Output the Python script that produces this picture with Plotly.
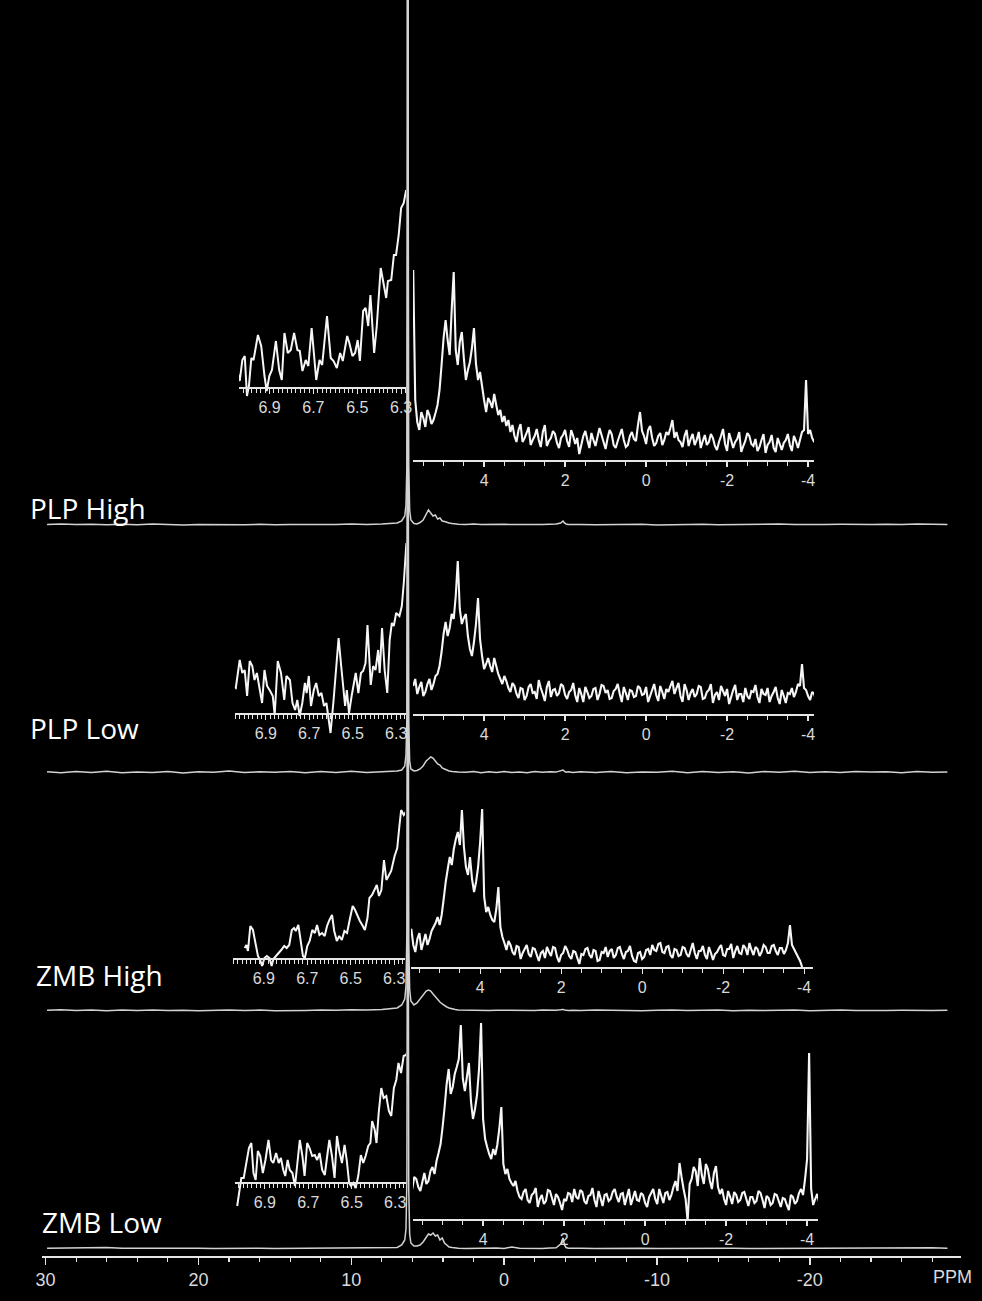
import plotly.graph_objects as go

# ---------------- DATA ----------------
NAMES = ["PLP High", "PLP Low", "ZMB High", "ZMB Low"]

MAIN_PPM = [29.9, 29, 28, 27, 26, 25, 24, 23, 22, 21, 20, 19, 18, 17, 16, 15, 14, 13, 12, 11, 10, 9, 8, 7.5,
            7.0, 6.7, 6.5, 6.42, 6.36, 6.32, 6.3, 6.28, 6.24, 6.18, 6.1, 5.9, 5.7, 5.5, 5.3, 5.1, 4.95, 4.8,
            4.65, 4.5, 4.35, 4.2, 4.05, 3.9, 3.75, 3.6, 3.4, 3.2, 3.0,
            2.5, 2.0, 1.5, 1.0, 0.5, 0, -0.5, -1, -1.5, -2, -2.5, -3, -3.4, -3.7, -3.85, -3.95, -4.05, -4.2, -4.5,
            -5, -6, -7, -8, -9, -10, -11, -12, -13, -14, -15, -16, -17, -18, -19, -20, -21, -22, -23, -24, -25,
            -26, -27, -28, -29]

PLP_HIGH_MAIN = [0.6, 1.0, 0.4, 0.8, 0.2, 0.7, 0.3, 0.9, 0.5, 0.1, 0.6, 0.4, 0.8, 0.3, 0.7, 0.2, 0.5, 0.4, 0.8, 0.5, 0.9, 0.6, 1.1, 1.5,
                 2, 4, 9, 20, 60, 400, 3000, 400, 60, 15, 5, 1.5, 1, 2.5, 5, 11, 15, 12, 9, 10, 6, 7, 4, 3.5, 2.5, 2, 1.5, 1, 0.8,
                 0.6, 0.9, 0.4, 0.7, 0.3, 0.8, 0.4, 0.6, 0.2, 0.5, 0.4, 0.7, 0.9, 2, 4, 2, 1, 0.6, 0.4,
                 0.5, 0.2, 0.6, 0.3, 0.7, 0.1, 0.5, 0.4, 0.8, 0.2, 0.5, 0.3, 0.6, 0.9, 0.4, 0.2, 0.5, 0.7, 0.3, 0.6, 0.8, 0.4, 0.9, 0.5, 0.6]
PLP_LOW_MAIN = [1.2, 0.2, 1.5, 0.5, 1.8, 0.3, 1.1, 0.6, 1.6, 0.1, 1.3, 0.7, 1.9, 0.4, 1.2, 0.8, 1.5, 0.2, 1.4, 0.6, 1.7, 0.5, 1.3, 1.6,
                2, 3, 7, 18, 55, 400, 3000, 400, 50, 12, 4, 2, 2.5, 4, 7, 12, 14, 16, 15, 12, 9, 8, 5, 4, 3, 2, 1.5, 1, 1,
                0.8, 1.5, 0.3, 1.2, 0.6, 1.6, 0.4, 1.1, 0.2, 1.4, 0.7, 1.3, 0.9, 1.8, 3, 1.6, 0.8, 1.2, 0.5,
                1.3, 0.4, 1.6, 0.2, 1.1, 0.7, 1.8, 0.3, 1.4, 0.6, 1.2, 0.1, 1.5, 0.8, 1.7, 0.4, 1.3, 0.5, 1.6, 0.9, 1.2, 0.3, 1.5, 0.7, 1.1]
ZMB_HIGH_MAIN = [0.8, 1.2, 0.5, 1.0, 0.3, 0.9, 0.6, 1.1, 0.4, 0.8, 0.2, 0.7, 1.0, 0.5, 0.9, 0.3, 0.8, 0.6, 1.0, 0.7, 1.2, 0.9, 1.4, 2.0,
                 3, 6, 12, 25, 80, 500, 3000, 500, 70, 22, 10, 6, 8, 12, 17, 20, 21, 20, 17, 14, 11, 9, 7, 5, 4, 3, 2, 1.5, 1,
                 0.8, 0.5, 0.9, 0.4, 0.7, 0.6, 1.0, 0.3, 0.8, 0.5, 0.9, 0.6, 0.8, 1.2, 1.6, 1.0, 0.7, 0.5, 0.8,
                 0.4, 0.9, 0.5, 0.8, 0.3, 0.7, 1.0, 0.4, 0.6, 0.9, 0.2, 0.8, 0.5, 0.7, 1.0, 0.3, 0.6, 0.9, 0.4, 0.8, 0.5, 0.7, 0.3, 0.6, 0.8]
ZMB_LOW_MAIN = [0.8, 1.0, 0.6, 0.9, 1.4, 0.7, 0.8, 0.5, 0.9, 0.6, 0.8, 0.4, 0.7, 0.5, 0.8, 0.6, 0.7, 0.4, 0.8, 0.5, 0.7, 0.6, 0.9, 1.2,
                1.5, 4, 9, 20, 70, 450, 3000, 450, 60, 15, 6, 3, 3, 4, 7, 12, 15, 14, 16, 13, 14, 9, 11, 6, 4, 2, 1.5, 1, 0.8,
                0.6, 0.8, 0.5, 0.7, 0.9, 0.6, 2.0, 0.7, 0.5, 0.8, 0.6, 0.9, 1.2, 5, 11, 4, 1.5, 0.8, 0.6,
                0.7, 0.5, 0.8, 0.6, 0.7, 0.4, 0.6, 0.5, 0.8, 0.6, 0.7, 0.5, 0.6, 0.4, 0.7, 0.5, 0.6, 0.8, 0.6, 0.7, 0.9, 1.2, 1.6, 1.2, 0.8]

# left insets (6.3-7.0 ppm)
PLP_HIGH_LEFT_PPM = [7.048, 7.036, 7.024, 7.013, 7.003, 6.994, 6.983, 6.973, 6.953, 6.938,
                     6.923, 6.913, 6.901, 6.889, 6.871, 6.856, 6.844, 6.832, 6.817, 6.803,
                     6.788, 6.773, 6.762, 6.750, 6.735, 6.723, 6.708, 6.695, 6.687, 6.672,
                     6.660, 6.638, 6.621, 6.608, 6.593, 6.578, 6.566, 6.546, 6.536, 6.522,
                     6.510, 6.498, 6.488, 6.473, 6.462, 6.450, 6.440, 6.423, 6.411, 6.393,
                     6.380, 6.368, 6.360, 6.345, 6.333, 6.323, 6.311, 6.300, 6.288, 6.277]
PLP_HIGH_LEFT = [17, 6, 27, 31, -9, 1, 29, 27, 52, 41, 11, -4, 11, 17, 46, 17, 7, 54, 34, 37,
                 54, 37, 36, 16, 27, 21, 59, 29, 7, 27, 22, 71, 29, 26, 19, 34, 26, 51, 44, 31,
                 34, 47, 26, 76, 79, 61, 92, 34, 61, 119, 101, 89, 106, 107, 132, 132, 152, 179, 184, 197]

PLP_LOW_LEFT_PPM = [7.080, 7.073, 7.065, 7.053, 7.038, 7.020, 7.008, 6.997, 6.986, 6.974,
                    6.962, 6.952, 6.941, 6.929, 6.917, 6.906, 6.894, 6.880, 6.868, 6.859,
                    6.845, 6.830, 6.815, 6.805, 6.789, 6.777, 6.765, 6.755, 6.744, 6.732,
                    6.720, 6.712, 6.702, 6.692, 6.679, 6.668, 6.656, 6.644, 6.632, 6.621,
                    6.611, 6.602, 6.588, 6.577, 6.565, 6.553, 6.542, 6.535, 6.527, 6.517,
                    6.505, 6.494, 6.486, 6.474, 6.462, 6.452, 6.441, 6.432, 6.417, 6.406,
                    6.395, 6.383, 6.376, 6.365, 6.353, 6.341, 6.330, 6.320, 6.311, 6.300,
                    6.285, 6.274, 6.265, 6.253, 6.244]
PLP_LOW_LEFT = [0, -5, 0, 27, 25, 53, 40, 43, 17, 52, 47, 33, 40, 23, 10, 43, 27, 22, 17, -2,
                52, 40, 13, 37, 33, 10, 3, 13, -3, 10, 30, 20, 37, 7, 23, 30, 17, 20, 7, 10,
                -7, -20, 13, 40, 75, 47, 17, 7, 23, 0, 17, 33, 40, 20, 40, 42, 50, 88, 28, 47,
                43, 63, 40, 85, 43, 20, 73, 90, 87, 100, 97, 107, 130, 170, 157]

ZMB_HIGH_LEFT_PPM = [6.988, 6.980, 6.973, 6.962, 6.950, 6.938, 6.927, 6.917, 6.908, 6.897,
                     6.886, 6.874, 6.864, 6.856, 6.844, 6.832, 6.820, 6.806, 6.795, 6.783,
                     6.771, 6.761, 6.753, 6.741, 6.730, 6.720, 6.711, 6.700, 6.689, 6.677,
                     6.665, 6.655, 6.644, 6.632, 6.620, 6.609, 6.598, 6.586, 6.576, 6.564,
                     6.553, 6.541, 6.529, 6.517, 6.503, 6.491, 6.480, 6.470, 6.458, 6.447,
                     6.435, 6.423, 6.414, 6.402, 6.389, 6.380, 6.370, 6.359, 6.347, 6.336,
                     6.326, 6.314, 6.298, 6.286, 6.276, 6.268, 6.256, 6.244, 6.233]
ZMB_HIGH_LEFT = [10, 13, 7, 32, 28, 15, 2, -2, -8, 0, 2, 0, -8, -1, 2, 4, 8, 12, 10, 13,
                 28, 30, 27, 33, 15, 2, 0, 12, 17, 28, 25, 33, 23, 25, 22, 32, 38, 43, 27, 17,
                 22, 18, 27, 25, 40, 52, 48, 42, 37, 33, 28, 40, 60, 63, 70, 73, 62, 68, 98, 78,
                 82, 87, 102, 110, 132, 148, 143, 147, 148]

ZMB_LOW_LEFT_PPM = [7.027, 7.018, 7.008, 6.997, 6.985, 6.973, 6.962, 6.952, 6.942, 6.932,
                    6.921, 6.909, 6.897, 6.883, 6.871, 6.861, 6.848, 6.836, 6.826, 6.815,
                    6.806, 6.795, 6.785, 6.773, 6.761, 6.750, 6.739, 6.727, 6.717, 6.705,
                    6.694, 6.682, 6.670, 6.659, 6.648, 6.636, 6.624, 6.614, 6.603, 6.591,
                    6.579, 6.568, 6.558, 6.545, 6.533, 6.523, 6.512, 6.503, 6.492, 6.482,
                    6.470, 6.458, 6.447, 6.436, 6.424, 6.414, 6.406, 6.394, 6.386, 6.376,
                    6.364, 6.353, 6.341, 6.329, 6.318, 6.306, 6.295, 6.285, 6.273, 6.261,
                    6.250, 6.242]
ZMB_LOW_LEFT = [-24, -8, 4, 4, 19, 34, 39, 9, 2, 31, 26, 9, 22, 42, 22, 19, 29, 19, 24, 12,
                6, 22, 12, 9, -4, 16, 42, 26, 6, 39, 34, 26, 27, 22, 29, 12, 7, 24, 42, 26,
                4, 46, 32, 19, 37, 22, -1, -4, -1, -6, 6, 27, 19, 26, 36, 39, 61, 52, 39, 69,
                94, 84, 86, 71, 66, 94, 102, 119, 109, 126, 127, 131]

# right insets (5.75 to -4.35 ppm, 0.05 ppm sampling)
RIGHT_PPM = [5.75, 5.7, 5.65, 5.6, 5.55, 5.5, 5.45, 5.4, 5.35, 5.3, 5.25, 5.2, 5.15, 5.1, 5.05, 5.0,
             4.95, 4.9, 4.85, 4.8, 4.75, 4.7, 4.65, 4.6, 4.55, 4.5, 4.45, 4.4, 4.35, 4.3, 4.25, 4.2,
             4.15, 4.1, 4.05, 4.0, 3.95, 3.9, 3.85, 3.8, 3.75, 3.7, 3.65, 3.6, 3.55, 3.5, 3.45, 3.4,
             3.35, 3.3, 3.25, 3.2, 3.15, 3.1, 3.05, 3.0, 2.95, 2.9, 2.85, 2.8, 2.75, 2.7, 2.65, 2.6,
             2.55, 2.5, 2.45, 2.4, 2.35, 2.3, 2.25, 2.2, 2.15, 2.1, 2.05, 2.0, 1.95, 1.9, 1.85, 1.8,
             1.75, 1.7, 1.65, 1.6, 1.55, 1.5, 1.45, 1.4, 1.35, 1.3, 1.25, 1.2, 1.15, 1.1, 1.05, 1.0,
             0.95, 0.9, 0.85, 0.8, 0.75, 0.7, 0.65, 0.6, 0.55, 0.5, 0.45, 0.4, 0.35, 0.3, 0.25, 0.2,
             0.15, 0.1, 0.05, 0.0, -0.05, -0.1, -0.15, -0.2, -0.25, -0.3, -0.35, -0.4, -0.45, -0.5,
             -0.55, -0.6, -0.65, -0.7, -0.75, -0.8, -0.85, -0.9, -0.95, -1.0, -1.05, -1.1, -1.15, -1.2,
             -1.25, -1.3, -1.35, -1.4, -1.45, -1.5, -1.55, -1.6, -1.65, -1.7, -1.75, -1.8, -1.85, -1.9,
             -1.95, -2.0, -2.05, -2.1, -2.15, -2.2, -2.25, -2.3, -2.35, -2.4, -2.45, -2.5, -2.55, -2.6,
             -2.65, -2.7, -2.75, -2.8, -2.85, -2.9, -2.95, -3.0, -3.05, -3.1, -3.15, -3.2, -3.25, -3.3,
             -3.35, -3.4, -3.45, -3.5, -3.55, -3.6, -3.65, -3.7, -3.75, -3.8, -3.85, -3.9, -3.95, -4.0,
             -4.05, -4.1, -4.15, -4.2, -4.25, -4.3, -4.35]
PLP_HIGH_RIGHT = [190, 60, 38, 30, 48, 42, 33, 50, 45, 36, 40, 47, 55, 70, 95, 122,
                  140, 120, 105, 150, 188, 110, 95, 118, 128, 102, 80, 90, 98, 112, 132, 96,
                  80, 88, 74, 60, 48, 62, 58, 52, 66, 55, 45, 50, 38, 44, 34, 40,
                  28, 35, 24, 18, 30, 36, 18, 22, 27, 33, 15, 20, 24, 31, 20, 13,
                  28, 35, 14, 19, 22, 29, 26, 17, 12, 22, 25, 30, 19, 13, 30, 24,
                  16, 22, 6, 15, 24, 29, 20, 12, 27, 20, 14, 23, 32, 25, 18, 11,
                  22, 30, 26, 15, 12, 19, 25, 31, 20, 13, 15, 24, 28, 21, 19, 35,
                  48, 29, 24, 16, 30, 34, 22, 14, 17, 24, 27, 15, 20, 28, 25, 32,
                  40, 22, 28, 20, 18, 13, 24, 30, 14, 21, 26, 15, 20, 28, 12, 19,
                  25, 15, 18, 26, 22, 14, 10, 18, 24, 31, 16, 9, 27, 20, 12, 18,
                  21, 28, 8, 14, 19, 27, 24, 16, 14, 21, 9, 13, 20, 26, 7, 15,
                  18, 25, 12, 8, 22, 16, 10, 17, 20, 26, 15, 9, 24, 19, 12, 20,
                  28, 30, 80, 26, 30, 22, 18, 25, 28, 16, 20]
PLP_LOW_RIGHT = [28, 35, 20, 27, 32, 18, 22, 30, 35, 24, 30, 38, 40, 48, 62, 80,
                 92, 78, 86, 100, 95, 118, 153, 105, 90, 96, 100, 78, 65, 58, 72, 90,
                 116, 75, 58, 45, 50, 56, 48, 42, 56, 48, 40, 35, 30, 38, 33, 26,
                 22, 31, 28, 20, 16, 26, 25, 14, 18, 27, 30, 21, 22, 15, 34, 26,
                 20, 13, 27, 33, 17, 24, 25, 18, 21, 30, 28, 19, 15, 22, 24, 31,
                 19, 12, 26, 20, 12, 27, 22, 16, 18, 25, 26, 14, 20, 29, 28, 21,
                 24, 15, 16, 23, 25, 30, 20, 12, 27, 21, 14, 24, 23, 17, 18, 28,
                 26, 19, 20, 27, 12, 18, 24, 30, 19, 13, 28, 22, 15, 25, 22, 28,
                 33, 20, 26, 31, 18, 12, 30, 24, 14, 21, 25, 17, 20, 28, 27, 15,
                 16, 22, 24, 30, 11, 19, 22, 14, 28, 23, 18, 25, 10, 17, 24, 29,
                 14, 20, 20, 12, 26, 18, 15, 23, 22, 29, 17, 11, 25, 20, 19, 26,
                 12, 18, 22, 27, 16, 10, 24, 18, 11, 21, 20, 26, 17, 22, 30, 28,
                 50, 26, 24, 18, 14, 22, 20, 13, 18, 24, 16]
ZMB_HIGH_RIGHT = [30, 38, 22, 15, 28, 34, 17, 25, 33, 22, 28, 36, 40, 44, 50, 42,
                  52, 68, 85, 98, 110, 102, 118, 128, 135, 122, 157, 120, 100, 92, 110, 88,
                  75, 85, 100, 125, 158, 70, 55, 60, 52, 47, 45, 58, 80, 40, 30, 24,
                  17, 26, 22, 15, 12, 21, 20, 8, 14, 18, 22, 13, 10, 19, 18, 12,
                  6, 14, 16, 9, 20, 15, 11, 20, 19, 10, 5, 12, 14, 21, 17, 11,
                  8, 16, 15, 9, 3, 13, 12, 18, 19, 12, 9, 17, 16, 6, 7, 15,
                  14, 20, 10, 16, 18, 9, 12, 19, 20, 13, 8, 15, 16, 21, 11, 6,
                  5, 14, 15, 8, 10, 17, 18, 12, 22, 17, 16, 23, 24, 15, 14, 20,
                  21, 12, 9, 18, 17, 11, 12, 20, 19, 13, 10, 17, 24, 14, 8, 16,
                  16, 21, 12, 8, 20, 14, 7, 13, 15, 19, 22, 12, 11, 18, 18, 23,
                  9, 16, 21, 14, 13, 22, 19, 12, 24, 17, 12, 20, 18, 11, 15, 22,
                  20, 14, 14, 21, 22, 16, 12, 19, 19, 13, 17, 24, 42, 22, 18, 14,
                  10, 6, 0, None, None, None, None, None, None, None, None]
ZMB_LOW_RIGHT = [30, 42, 40, 32, 28, 37, 46, 35, 38, 48, 52, 45, 58, 66, 75, 92,
                 112, 135, 150, 125, 132, 145, 152, 160, 194, 140, 128, 142, 156, 118, 100, 110,
                 124, 150, 196, 100, 80, 72, 65, 60, 70, 64, 74, 90, 112, 55, 45, 50,
                 40, 36, 33, 38, 28, 22, 20, 27, 30, 19, 16, 24, 26, 31, 12, 20,
                 24, 15, 18, 29, 28, 21, 14, 25, 22, 16, 9, 20, 18, 26, 25, 17,
                 30, 22, 20, 29, 27, 18, 15, 23, 24, 31, 19, 12, 28, 21, 13, 24,
                 25, 18, 20, 27, 30, 22, 17, 25, 26, 14, 22, 30, 14, 21, 28, 19,
                 18, 26, 24, 16, 12, 22, 26, 30, 20, 15, 30, 23, 16, 26, 27, 19,
                 24, 32, 38, 28, 56, 42, 30, 20, -2, 35, 40, 52, 48, 33, 61, 44,
                 35, 55, 50, 38, 30, 46, 53, 32, 25, 30, 20, 14, 28, 22, 15, 27,
                 24, 17, 19, 26, 27, 20, 13, 22, 22, 16, 18, 28, 26, 19, 11, 23,
                 21, 14, 16, 25, 24, 18, 12, 21, 20, 14, 9, 24, 22, 15, 18, 26,
                 30, 24, 40, 60, 166, 30, 14, 20, 25, 16, 10]

MAIN_TICKS = [30, 20, 10, 0, -10, -20]
MAIN_TICK_TEXT = ["30", "20", "10", "0", "-10", "-20"]
LEFT_TICKS = [6.9, 6.7, 6.5, 6.3]
LEFT_TICK_TEXT = ["6.9", "6.7", "6.5", "6.3"]
RIGHT_TICKS = [4, 2, 0, -2, -4]
RIGHT_TICK_TEXT = ["4", "2", "0", "-2", "-4"]
AXIS_UNIT = "PPM"

MAIN = {"PLP High": PLP_HIGH_MAIN, "PLP Low": PLP_LOW_MAIN, "ZMB High": ZMB_HIGH_MAIN, "ZMB Low": ZMB_LOW_MAIN}
LEFT = {"PLP High": (PLP_HIGH_LEFT_PPM, PLP_HIGH_LEFT), "PLP Low": (PLP_LOW_LEFT_PPM, PLP_LOW_LEFT),
        "ZMB High": (ZMB_HIGH_LEFT_PPM, ZMB_HIGH_LEFT), "ZMB Low": (ZMB_LOW_LEFT_PPM, ZMB_LOW_LEFT)}
RIGHT = {"PLP High": PLP_HIGH_RIGHT, "PLP Low": PLP_LOW_RIGHT, "ZMB High": ZMB_HIGH_RIGHT, "ZMB Low": ZMB_LOW_RIGHT}

# ---------------- LAYOUT (pixel geometry) ----------------
W, H = 982, 1301
AXIS_PX = 1256
POS = {
    "PLP High": dict(base=525, lab=(22, 508),
                     L=dict(ay=387, top=200, below=14, x63=400, l=236, r=405, s=222),
                     R=dict(ay=460, top=198, below=8, x0=648, l=412, r=818)),
    "PLP Low": dict(base=773, lab=(22, 728),
                    L=dict(ay=713, top=175, below=24, x63=395, l=231.7, r=405, s=220),
                    R=dict(ay=714, top=160, below=8, x0=648, l=412, r=818)),
    "ZMB High": dict(base=1011, lab=(28, 975),
                     L=dict(ay=958, top=152, below=12, x63=393, l=230, r=404, s=220),
                     R=dict(ay=967, top=165, below=8, x0=644, l=410, r=817)),
    "ZMB Low": dict(base=1249, lab=(34, 1222),
                    L=dict(ay=1182, top=135, below=28, x63=394, l=231.7, r=405, s=220),
                    R=dict(ay=1219, top=205, below=8, x0=647, l=412, r=822)),
}
PX_PER_PPM_R = 41.0


def fx(p):
    return p / W


def fy(p):
    return 1 - p / H


AX = "#e6e6e6"
TICK_FONT = dict(family="Liberation Sans Narrow, Arial Narrow, Liberation Sans, Arial, sans-serif", color="#dadada")
MAIN_COLOR = "#d2d2d2"
INSET_COLOR = "#f6f6f6"

fig = go.Figure()
layout = dict(width=W, height=H, margin=dict(l=0, r=0, t=0, b=0),
              paper_bgcolor="black", plot_bgcolor="rgba(0,0,0,0)", showlegend=False)

layout["xaxis"] = dict(domain=[fx(36), fx(967)], range=[30.26, -29.9], anchor="y",
                       showline=True, linecolor=AX, linewidth=1.5,
                       ticks="outside", ticklen=7, tickwidth=1.3, tickcolor=AX,
                       tickmode="array", tickvals=MAIN_TICKS, ticktext=MAIN_TICK_TEXT,
                       tickfont=dict(size=18, **TICK_FONT),
                       minor=dict(tickmode="linear", tick0=0, dtick=2, ticks="outside",
                                  ticklen=4, tickcolor=AX, tickwidth=1.2),
                       showgrid=False, zeroline=False, fixedrange=True)

annotations = []
for i, name in enumerate(NAMES):
    p = POS[name]
    yname = "yaxis" if i == 0 else f"yaxis{i + 1}"
    yref = "y" if i == 0 else f"y{i + 1}"
    ya = dict(domain=[fy(AXIS_PX), 1.0], range=[-(AXIS_PX - p["base"]), p["base"]],
              visible=False, fixedrange=True)
    if i > 0:
        ya["overlaying"] = "y"
    layout[yname] = ya
    fig.add_trace(go.Scatter(x=MAIN_PPM, y=MAIN[name], xaxis="x", yaxis=yref, mode="lines",
                             line=dict(color=MAIN_COLOR, width=1.5), hoverinfo="skip"))
    annotations.append(dict(text=name, x=fx(p["lab"][0]), y=fy(p["lab"][1]), xref="paper", yref="paper",
                            xanchor="left", yanchor="middle", showarrow=False,
                            font=dict(family="Open Sans, Lato, sans-serif", size=28, color="white")))

    # left inset
    L = p["L"]
    xn, yn = 2 + i, 5 + i
    layout[f"xaxis{xn}"] = dict(domain=[fx(L["l"]), fx(L["r"])],
                                range=[6.3 + (L["x63"] - L["l"]) / L["s"], 6.3 - (L["r"] - L["x63"]) / L["s"]],
                                anchor="free", position=fy(L["ay"]),
                                showline=True, linecolor=AX, linewidth=1.5,
                                ticks="outside", ticklen=5, tickwidth=1.2, tickcolor=AX,
                                tickmode="array", tickvals=LEFT_TICKS, ticktext=LEFT_TICK_TEXT,
                                tickfont=dict(size=16, **TICK_FONT),
                                minor=dict(tickmode="linear", tick0=6.3, dtick=0.02, ticks="outside",
                                           ticklen=4, tickcolor=AX, tickwidth=1),
                                showgrid=False, zeroline=False, fixedrange=True)
    layout[f"yaxis{yn}"] = dict(domain=[fy(L["ay"] + L["below"]), fy(L["ay"] - L["top"])],
                                range=[-L["below"], L["top"]], anchor=f"x{xn}",
                                visible=False, fixedrange=True)
    lx, ly = LEFT[name]
    fig.add_trace(go.Scatter(x=lx, y=ly, xaxis=f"x{xn}", yaxis=f"y{yn}", mode="lines",
                             line=dict(color=INSET_COLOR, width=2.0), hoverinfo="skip"))

    # right inset
    R = p["R"]
    xn, yn = 6 + i, 9 + i
    layout[f"xaxis{xn}"] = dict(domain=[fx(R["l"]), fx(R["r"])],
                                range=[(R["x0"] - R["l"]) / PX_PER_PPM_R, (R["x0"] - R["r"]) / PX_PER_PPM_R],
                                anchor="free", position=fy(R["ay"]),
                                showline=True, linecolor=AX, linewidth=1.5,
                                ticks="outside", ticklen=5, tickwidth=1.2, tickcolor=AX,
                                tickmode="array", tickvals=RIGHT_TICKS, ticktext=RIGHT_TICK_TEXT,
                                tickfont=dict(size=16, **TICK_FONT),
                                minor=dict(tickmode="linear", tick0=0, dtick=0.5, ticks="outside",
                                           ticklen=4, tickcolor=AX, tickwidth=1),
                                showgrid=False, zeroline=False, fixedrange=True)
    layout[f"yaxis{yn}"] = dict(domain=[fy(R["ay"] + R["below"]), fy(R["ay"] - R["top"])],
                                range=[-R["below"], R["top"]], anchor=f"x{xn}",
                                visible=False, fixedrange=True)
    fig.add_trace(go.Scatter(x=RIGHT_PPM, y=RIGHT[name], xaxis=f"x{xn}", yaxis=f"y{yn}", mode="lines",
                             line=dict(color=INSET_COLOR, width=2.1, simplify=False), hoverinfo="skip"))

annotations.append(dict(text=AXIS_UNIT, x=fx(958), y=fy(1277), xref="paper", yref="paper",
                        xanchor="center", yanchor="middle", showarrow=False,
                        font=dict(size=18, **TICK_FONT)))
layout["annotations"] = annotations

fig.update_layout(**layout)
fig.write_html("out.html", config={"displayModeBar": False, "staticPlot": True},
               post_script="document.body.style.margin='0';document.body.style.background='black';"
                           "document.documentElement.style.overflow='hidden';")
